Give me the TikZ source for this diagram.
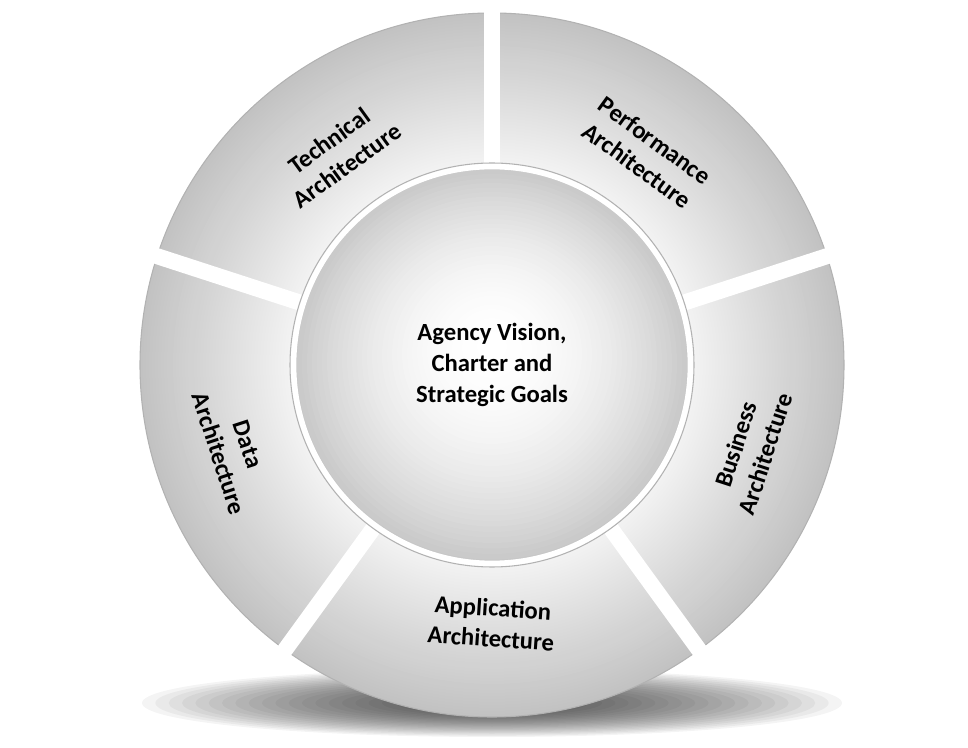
\documentclass[tikz,border=0pt]{standalone}
\usepackage{fontspec}
\setmainfont{Carlito}
\usetikzlibrary{calc}
\begin{document}
\begin{tikzpicture}[x=0.75pt,y=0.75pt,
  lab/.style={font=\bfseries\fontsize{18.5}{23}\selectfont,align=center,text=black}]
\useasboundingbox (0,0) rectangle (968,747);
\coordinate (C) at (492,382);
% shadow
\foreach \i in {0,...,24}{
  \pgfmathsetmacro{\s}{1-\i/24}
  \fill[black, opacity=0.045] (492,44) ellipse ({320*\s+30} and {28*\s+6});
}
% ring gradient
\foreach \r in {352,349,...,196}{
  \pgfmathsetmacro{\t}{4+(\r-196)/156*20}
  \fill[black!\t!white] (C) circle (\r);
}
\draw[gray!60, line width=0.8] (C) circle (352);
% gaps
\foreach \a in {90,18,-54,-126,162}{
  \draw[white, line width=12] (C) ++(\a:190) -- ++(\a:175);
}
% inner circle
\foreach \r in {200,195,...,0}{
  \pgfmathsetmacro{\t}{(\r/200)^2*22}
  \fill[black!\t!white] ($(C)+(0,{20*(1-\r/200)})$) circle (\r);
}
\draw[white, line width=5] (C) circle (199);
\draw[gray!60, line width=0.8] (C) circle (202);
\node[lab] (center) at (C) {Agency Vision,\\Charter and\\Strategic Goals};
\node[lab, rotate=36] (tech) at ($(C)+(126:262)$) {Technical\\Architecture};
\node[lab, rotate=-36] (perf) at ($(C)+(54:262)$) {Performance\\Architecture};
\node[lab, rotate=72] (bus) at ($(C)+(-18:272)$) {Business\\Architecture};
\node[lab, rotate=-4] (app) at ($(C)+(-90:258)$) {Application\\Architecture};
\node[lab, rotate=-72] (data) at ($(C)+(198:272)$) {Data\\Architecture};
\end{tikzpicture}
\end{document}
